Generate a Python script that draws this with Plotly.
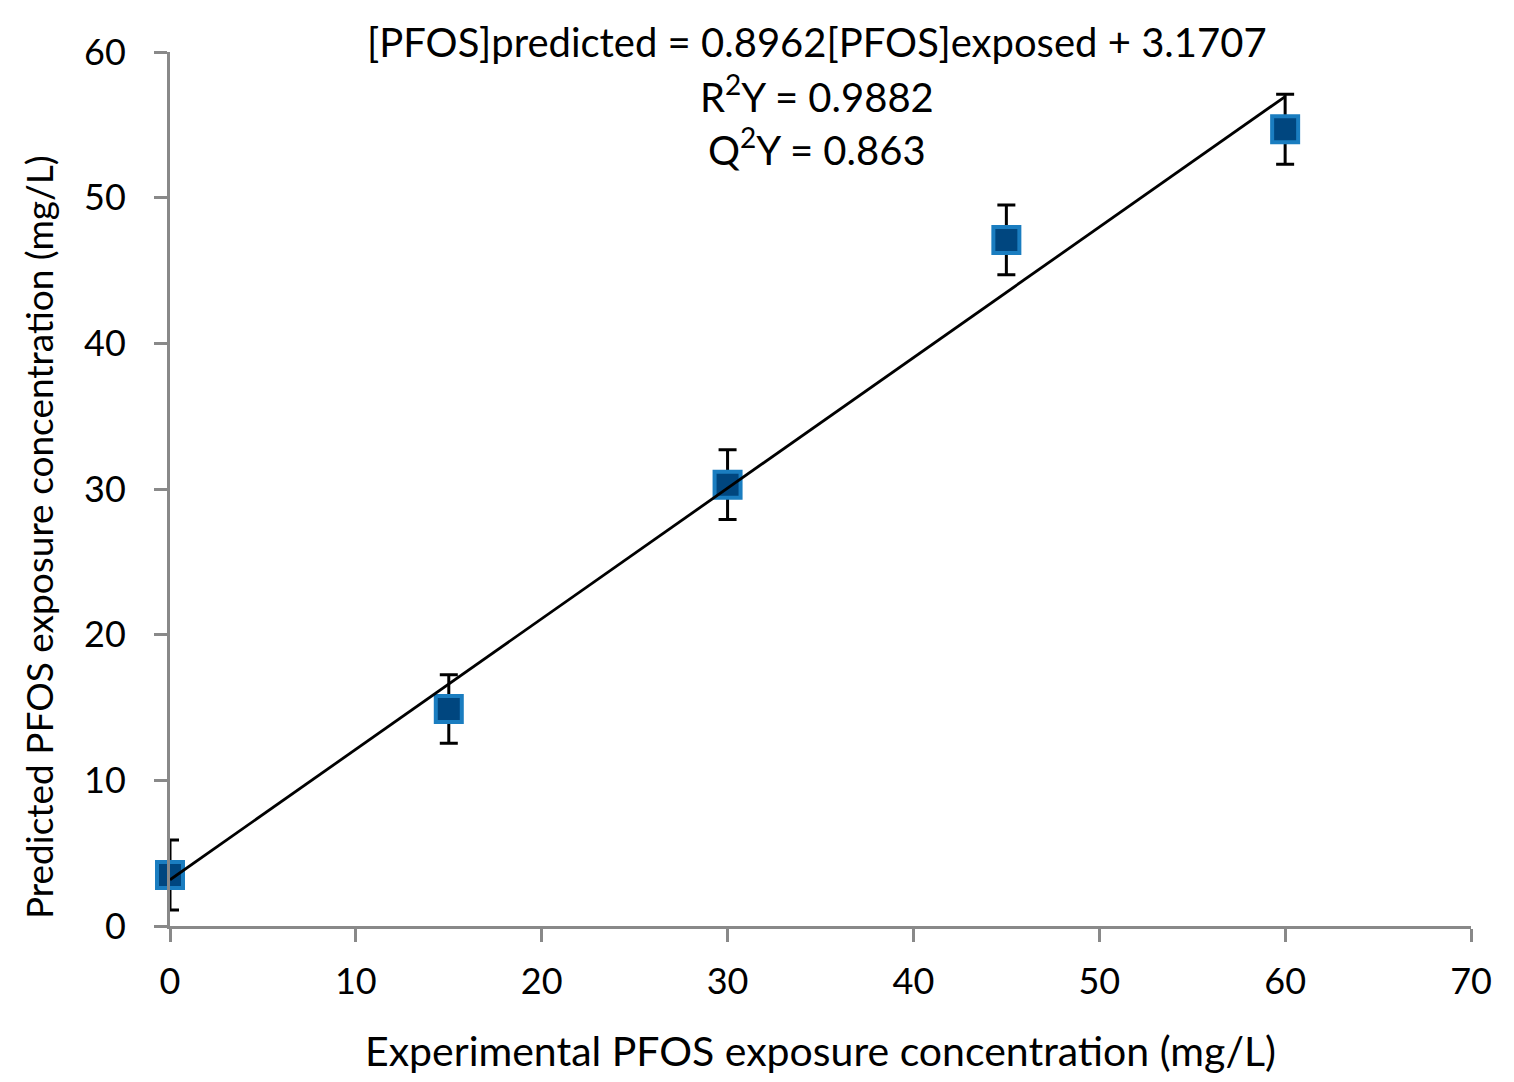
import plotly.graph_objects as go

# Data
experimental = [0, 15, 30, 45, 60]
predicted = [3.5, 14.9, 30.3, 47.1, 54.7]
error = [2.4, 2.35, 2.4, 2.4, 2.4]
slope = 0.8962
intercept = 3.1707
fit_x = [0, 60]
fit_y = [slope * v + intercept for v in fit_x]

x_ticks = [0, 10, 20, 30, 40, 50, 60, 70]
y_ticks = [0, 10, 20, 30, 40, 50, 60]

eq_lines = [
    "[PFOS]predicted = 0.8962[PFOS]exposed + 3.1707",
    "R<sup>2</sup>Y = 0.9882",
    "Q<sup>2</sup>Y = 0.863",
]
x_title = "Experimental PFOS exposure concentration (mg/L)"
y_title = "Predicted PFOS exposure concentration (mg/L)"

FONT = "Lato, Calibri, sans-serif"
AXIS_GREY = "#898989"

fig = go.Figure()
fig.add_trace(go.Scatter(
    x=experimental, y=predicted, mode="markers",
    marker=dict(symbol="square", size=26, color="#00467f",
                line=dict(color="#1a7dc0", width=4)),
    error_y=dict(type="data", array=error, visible=True,
                 color="black", thickness=3, width=9),
    cliponaxis=False, showlegend=False,
))
fig.add_trace(go.Scatter(
    x=fit_x, y=fit_y, mode="lines",
    line=dict(color="black", width=2.8),
    cliponaxis=False, showlegend=False,
))

annotations = []
for text, yp in zip(eq_lines, [1.0114, 0.952, 0.891]):
    annotations.append(dict(text=text, xref="paper", yref="paper",
                            x=0.4975, y=yp, xanchor="center", yanchor="middle",
                            showarrow=False, font=dict(size=40, color="black", family=FONT)))
annotations.append(dict(text=x_title, xref="paper", yref="paper",
                        x=0.5, y=-0.142, xanchor="center", yanchor="middle",
                        showarrow=False, font=dict(size=41, color="black", family=FONT)))
annotations.append(dict(text=y_title, xref="paper", yref="paper",
                        x=-0.1015, y=0.445, xanchor="center", yanchor="middle",
                        textangle=-90,
                        showarrow=False, font=dict(size=37, color="black", family=FONT)))

fig.update_layout(
    width=1506, height=1074,
    margin=dict(l=162, r=43, t=44, b=156),
    paper_bgcolor="white", plot_bgcolor="white",
    font=dict(family=FONT, size=36, color="black"),
    annotations=annotations,
    xaxis=dict(range=[0, 70], tickvals=x_ticks, showgrid=False, zeroline=False,
               showline=True, linecolor=AXIS_GREY, linewidth=3,
               ticks="outside", ticklen=13, tickwidth=3, tickcolor=AXIS_GREY,
               ticklabelstandoff=9,
               tickfont=dict(size=36, color="black", family=FONT)),
    yaxis=dict(range=[0, 60], tickvals=y_ticks, showgrid=False, zeroline=False,
               showline=True, linecolor=AXIS_GREY, linewidth=3,
               ticks="outside", ticklen=13, tickwidth=3, tickcolor=AXIS_GREY,
               ticklabelstandoff=21,
               tickfont=dict(size=36, color="black", family=FONT)),
)

fig.write_html("out.html")
